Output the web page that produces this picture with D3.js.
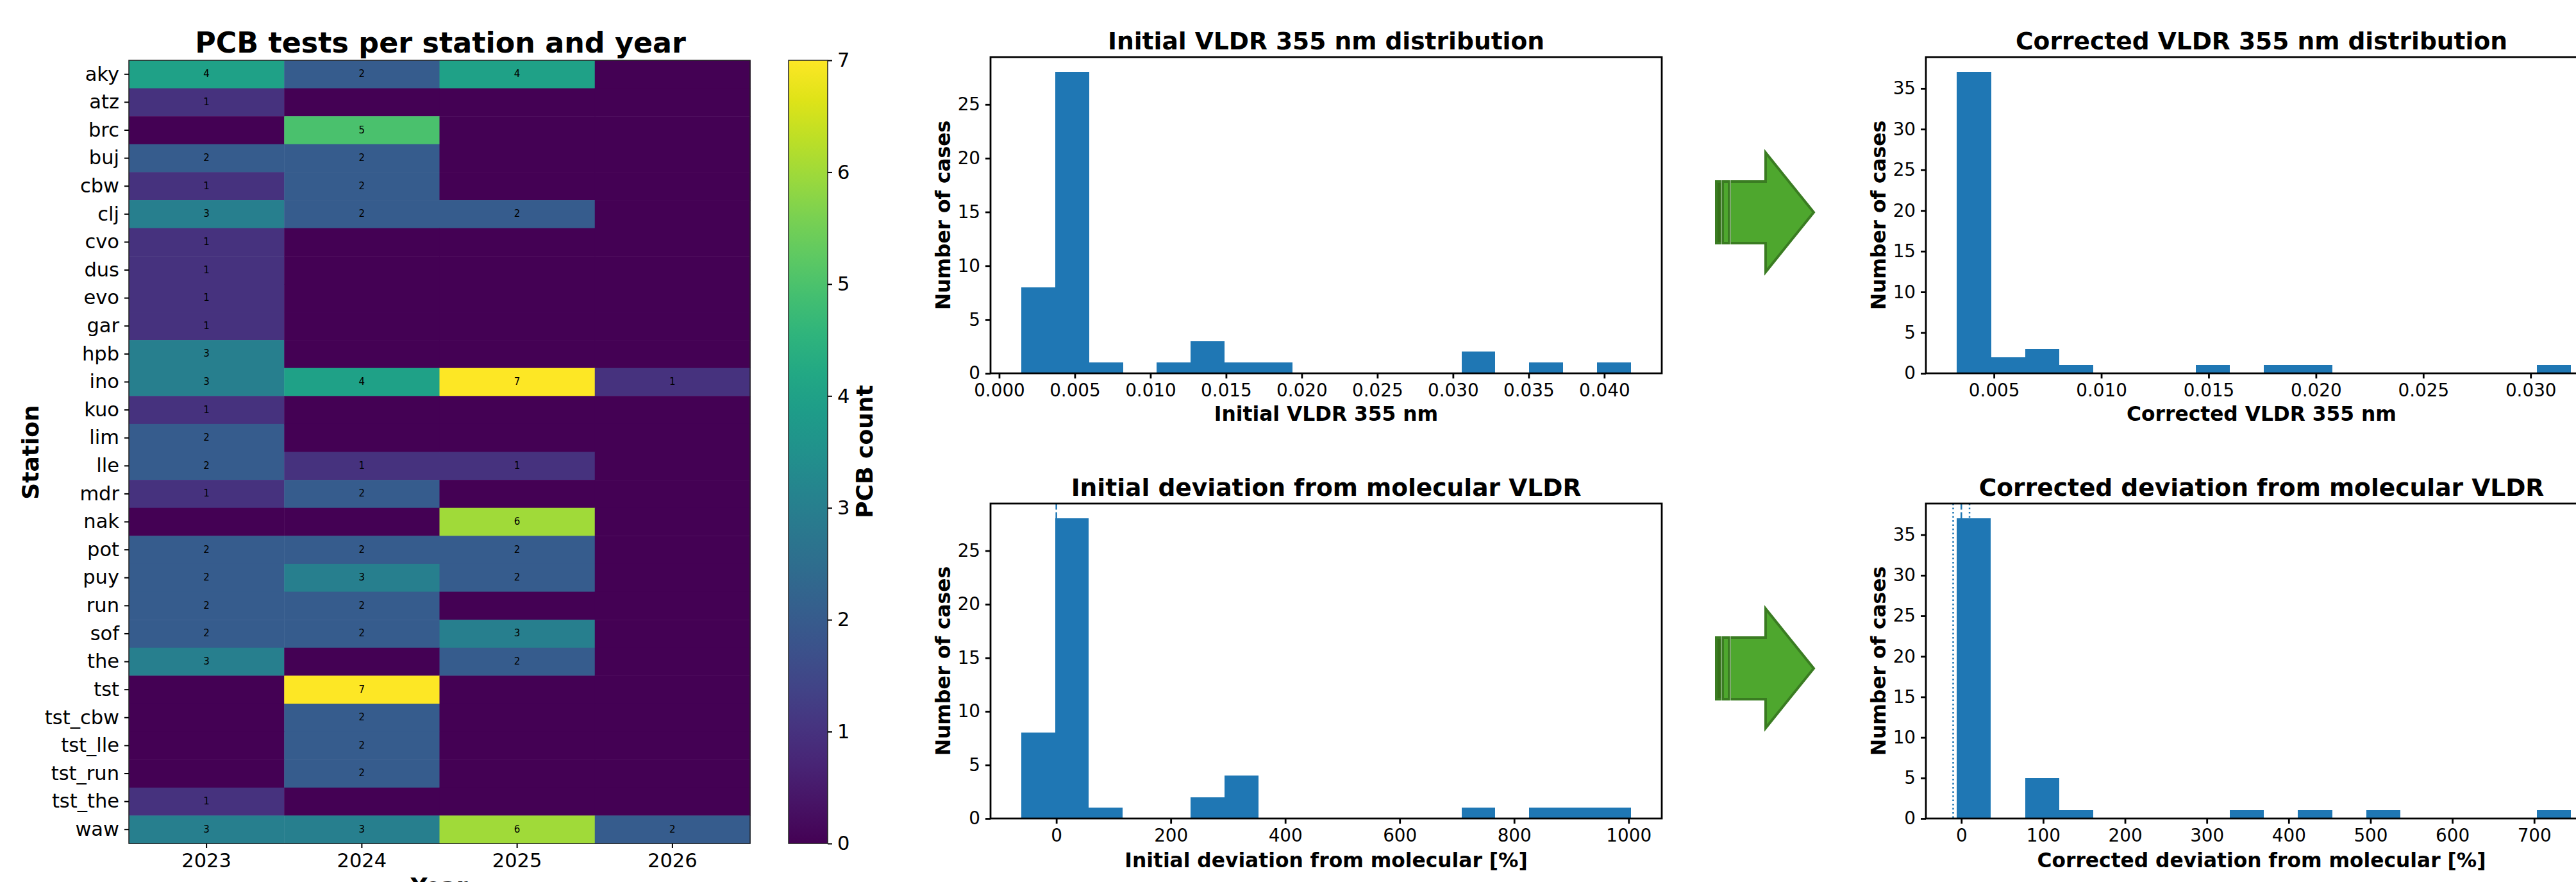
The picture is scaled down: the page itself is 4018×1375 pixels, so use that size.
<!DOCTYPE html>
<html>
<head>
<meta charset="utf-8">
<script src="https://cdn.jsdelivr.net/npm/d3@7"></script>
<style>
  html, body { margin: 0; background: #fff; overflow: hidden; }
  text { font-family: "DejaVu Sans", sans-serif; fill: #000; }
  .bold { font-weight: bold; }
</style>
</head>
<body>
<svg id="chart" width="4018" height="1375"></svg>
<script>
const stations = ["aky", "atz", "brc", "buj", "cbw", "clj", "cvo", "dus", "evo", "gar", "hpb", "ino", "kuo", "lim",
    "lle", "mdr", "nak", "pot", "puy", "run", "sof", "the", "tst", "tst_cbw", "tst_lle", "tst_run", "tst_the", "waw"];
const years = [2023, 2024, 2025, 2026];

// rows follow stations, columns follow years
const pcbCounts = [
    [4, 2, 4, 0], [1, 0, 0, 0], [0, 5, 0, 0], [2, 2, 0, 0], [1, 2, 0, 0], [3, 2, 2, 0], [1, 0, 0, 0],
    [1, 0, 0, 0], [1, 0, 0, 0], [1, 0, 0, 0], [3, 0, 0, 0], [3, 4, 7, 1], [1, 0, 0, 0], [2, 0, 0, 0],
    [2, 1, 1, 0], [1, 2, 0, 0], [0, 0, 6, 0], [2, 2, 2, 0], [2, 3, 2, 0], [2, 2, 0, 0], [2, 2, 3, 0],
    [3, 0, 2, 0], [0, 7, 0, 0], [0, 2, 0, 0], [0, 2, 0, 0], [0, 2, 0, 0], [1, 0, 0, 0], [3, 3, 6, 2],
];
const colorbarTicks = [0, 1, 2, 3, 4, 5, 6, 7];

const initialVldrCounts = [8, 28, 1, 0, 1, 3, 1, 1, 0, 0, 0, 0, 0, 2, 0, 1, 0, 1];
const initialDevCounts = [8, 28, 1, 0, 0, 2, 4, 0, 0, 0, 0, 0, 0, 1, 0, 1, 1, 1];
const correctedVldrCounts = [37, 2, 3, 1, 0, 0, 0, 1, 0, 1, 1, 0, 0, 0, 0, 0, 0, 1];
const correctedDevCounts = [37, 0, 5, 1, 0, 0, 0, 0, 1, 0, 1, 0, 1, 0, 0, 0, 0, 1];

const initialVldrTicks = [0, 0.005, 0.01, 0.015, 0.02, 0.025, 0.03, 0.035, 0.04];
const initialDevTicks = [0, 200, 400, 600, 800, 1000];
const correctedVldrTicks = [0.005, 0.01, 0.015, 0.02, 0.025, 0.03];
const correctedDevTicks = [0, 100, 200, 300, 400, 500, 600, 700];

const svg = d3.select("#chart");

function styleAxis(g, size, tickWidth) {
    g.select(".domain").remove();
    g.selectAll(".tick line").attr("stroke", "#000").attr("stroke-width", tickWidth);
    g.selectAll(".tick text").attr("font-size", size).attr("font-family", "DejaVu Sans");
}

// heatmap
const heatX = d3.scaleBand().domain(years).range([201, 1170]);
const heatY = d3.scaleBand().domain(stations).range([94, 1315]);
const color = d3.scaleSequential(d3.interpolateViridis).domain([0, 7]);

const heatCells = pcbCounts.flatMap((row, i) => row.map((v, j) => ({ station: stations[i], year: years[j], v: v })));

svg.append("g").selectAll("rect")
    .data(heatCells)
    .enter().append("rect")
    .attr("x", d => heatX(d.year))
    .attr("y", d => heatY(d.station))
    .attr("width", heatX.bandwidth() + 0.5)
    .attr("height", heatY.bandwidth() + 0.5)
    .attr("fill", d => color(d.v));

svg.append("g").selectAll("text")
    .data(heatCells.filter(d => d.v > 0))
    .enter().append("text")
    .attr("x", d => heatX(d.year) + heatX.bandwidth() / 2)
    .attr("y", d => heatY(d.station) + heatY.bandwidth() / 2)
    .attr("dy", "0.3em")
    .attr("text-anchor", "middle")
    .attr("font-size", 15)
    .text(d => d.v);

svg.append("rect")
    .attr("x", 201).attr("y", 94).attr("width", 969).attr("height", 1221)
    .attr("fill", "none").attr("stroke", "#222").attr("stroke-width", 1.5);

svg.append("g")
    .attr("transform", "translate(0,1315)")
    .call(d3.axisBottom(heatX).tickSize(7).tickPadding(8))
    .call(g => styleAxis(g, 30.5, 2));
svg.append("g")
    .attr("transform", "translate(201,0)")
    .call(d3.axisLeft(heatY).tickSize(7).tickPadding(8))
    .call(g => styleAxis(g, 30.5, 2));

svg.append("text").attr("class", "bold")
    .attr("x", 687).attr("y", 82).attr("text-anchor", "middle").attr("font-size", 44.4)
    .text("PCB tests per station and year");
svg.append("text").attr("class", "bold")
    .attr("x", 685).attr("y", 1394).attr("text-anchor", "middle").attr("font-size", 36)
    .text("Year");
svg.append("text").attr("class", "bold")
    .attr("transform", "translate(60,705) rotate(-90)").attr("text-anchor", "middle").attr("font-size", 36)
    .text("Station");

// colorbar
const barScale = d3.scaleLinear().domain([0, 7]).range([1315, 94]);
const gradient = svg.append("defs").append("linearGradient")
    .attr("id", "viridis").attr("x1", 0).attr("y1", 1).attr("x2", 0).attr("y2", 0);
gradient.selectAll("stop")
    .data(d3.range(0, 1.001, 0.05))
    .enter().append("stop")
    .attr("offset", d => d)
    .attr("stop-color", d => d3.interpolateViridis(d));

svg.append("rect")
    .attr("x", 1230).attr("y", 94).attr("width", 61).attr("height", 1221)
    .attr("fill", "url(#viridis)").attr("stroke", "#222").attr("stroke-width", 1.5);
svg.append("g")
    .attr("transform", "translate(1291,0)")
    .call(d3.axisRight(barScale).tickValues(colorbarTicks).tickFormat(d3.format("d")).tickSize(7).tickPadding(8))
    .call(g => styleAxis(g, 30.5, 2));
svg.append("text").attr("class", "bold")
    .attr("transform", "translate(1361,704) rotate(-90)").attr("text-anchor", "middle").attr("font-size", 36)
    .text("PCB count");

// histograms
function drawHist(o) {
    const x = d3.scaleLinear().domain(o.xDomain).range([o.left, o.left + 1047]);
    const y = d3.scaleLinear().domain([0, d3.max(o.counts) * 1.05]).range([o.bottom, o.top]);
    const binW = (o.binEnd - o.binStart) / o.counts.length;
    const g = svg.append("g");

    (o.refLines || []).forEach(r => {
        g.append("line")
            .attr("x1", x(r.value)).attr("x2", x(r.value))
            .attr("y1", o.top).attr("y2", o.bottom)
            .attr("stroke", "#1f77b4").attr("stroke-width", 2.5)
            .attr("stroke-dasharray", r.dash);
    });

    g.selectAll("rect.bar")
        .data(o.counts)
        .enter().append("rect")
        .attr("class", "bar")
        .attr("x", (d, i) => x(o.binStart + i * binW))
        .attr("width", x(o.binStart + binW) - x(o.binStart))
        .attr("y", d => y(d))
        .attr("height", d => o.bottom - y(d))
        .attr("fill", "#1f77b4")
        .attr("shape-rendering", "crispEdges");

    g.append("rect")
        .attr("x", o.left).attr("y", o.top).attr("width", 1047).attr("height", o.bottom - o.top)
        .attr("fill", "none").attr("stroke", "#000").attr("stroke-width", 2.8);

    g.append("g")
        .attr("transform", "translate(0," + o.bottom + ")")
        .call(d3.axisBottom(x).tickValues(o.xTicks).tickFormat(d3.format(o.xFormat)).tickSize(8).tickPadding(8))
        .call(a => styleAxis(a, 27.8, 2.8));
    g.append("g")
        .attr("transform", "translate(" + o.left + ",0)")
        .call(d3.axisLeft(y).tickValues(o.yTicks).tickSize(8).tickPadding(8))
        .call(a => styleAxis(a, 27.8, 2.8));

    g.append("text").attr("class", "bold")
        .attr("x", o.left + 523.5).attr("y", o.titleY).attr("text-anchor", "middle").attr("font-size", 37.6)
        .text(o.title);
    g.append("text").attr("class", "bold")
        .attr("x", o.left + 523.5).attr("y", o.labelY).attr("text-anchor", "middle").attr("font-size", 31.3)
        .text(o.xLabel);
    g.append("text").attr("class", "bold")
        .attr("transform", "translate(" + (o.left - 63) + "," + ((o.top + o.bottom) / 2) + ") rotate(-90)")
        .attr("text-anchor", "middle").attr("font-size", 31.3)
        .text("Number of cases");
}

drawHist({
    left: 1545, top: 89, bottom: 582, titleY: 77, labelY: 656,
    counts: initialVldrCounts, xDomain: [-0.00057, 0.0438], binStart: 0.00147, binEnd: 0.04175,
    xTicks: initialVldrTicks, xFormat: ".3f", yTicks: [0, 5, 10, 15, 20, 25],
    title: "Initial VLDR 355 nm distribution", xLabel: "Initial VLDR 355 nm",
});
drawHist({
    left: 1545, top: 785, bottom: 1276, titleY: 773, labelY: 1352,
    counts: initialDevCounts, xDomain: [-115, 1058], binStart: -61.6, binEnd: 1004,
    xTicks: initialDevTicks, xFormat: "d", yTicks: [0, 5, 10, 15, 20, 25],
    refLines: [{ value: 0, dash: "9.5,4" }],
    title: "Initial deviation from molecular VLDR", xLabel: "Initial deviation from molecular [%]",
});
drawHist({
    left: 3004, top: 89, bottom: 582, titleY: 77, labelY: 656,
    counts: correctedVldrCounts, xDomain: [0.00183, 0.0331], binStart: 0.003277, binEnd: 0.03189,
    xTicks: correctedVldrTicks, xFormat: ".3f", yTicks: [0, 5, 10, 15, 20, 25, 30, 35],
    title: "Corrected VLDR 355 nm distribution", xLabel: "Corrected VLDR 355 nm",
});
drawHist({
    left: 3004, top: 785, bottom: 1276, titleY: 773, labelY: 1352,
    counts: correctedDevCounts, xDomain: [-43.3, 777], binStart: -5.5, binEnd: 745,
    xTicks: correctedDevTicks, xFormat: "d", yTicks: [0, 5, 10, 15, 20, 25, 30, 35],
    refLines: [{ value: 0, dash: "9.5,4" }, { value: -10, dash: "2.5,4" }, { value: 10, dash: "2.5,4" }],
    title: "Corrected deviation from molecular VLDR", xLabel: "Corrected deviation from molecular [%]",
});

// arrows between the columns
function drawArrow(top) {
    const fill = "#4ea72e", dark = "#3a7c22";
    const a = svg.append("g").attr("transform", "translate(2675," + top + ")");
    a.append("path")
        .attr("d", "M2,51 H79 V6 L154,99 L79,192 V147 H2 Z")
        .attr("fill", fill).attr("stroke", dark).attr("stroke-width", 4);
    a.append("rect").attr("x", 0).attr("y", 49).attr("width", 25).attr("height", 100).attr("fill", dark);
    a.append("rect").attr("x", 14).attr("y", 53).attr("width", 6).attr("height", 92).attr("fill", fill);
    a.append("rect").attr("x", 4).attr("y", 53).attr("width", 5).attr("height", 92).attr("fill", "#347018");
    [9.5, 23.5].forEach(px => {
        a.append("rect").attr("x", px).attr("y", 49).attr("width", 1).attr("height", 100).attr("fill", "#c4d8bc");
    });
}
drawArrow(232);
drawArrow(943);
</script>
</body>
</html>
